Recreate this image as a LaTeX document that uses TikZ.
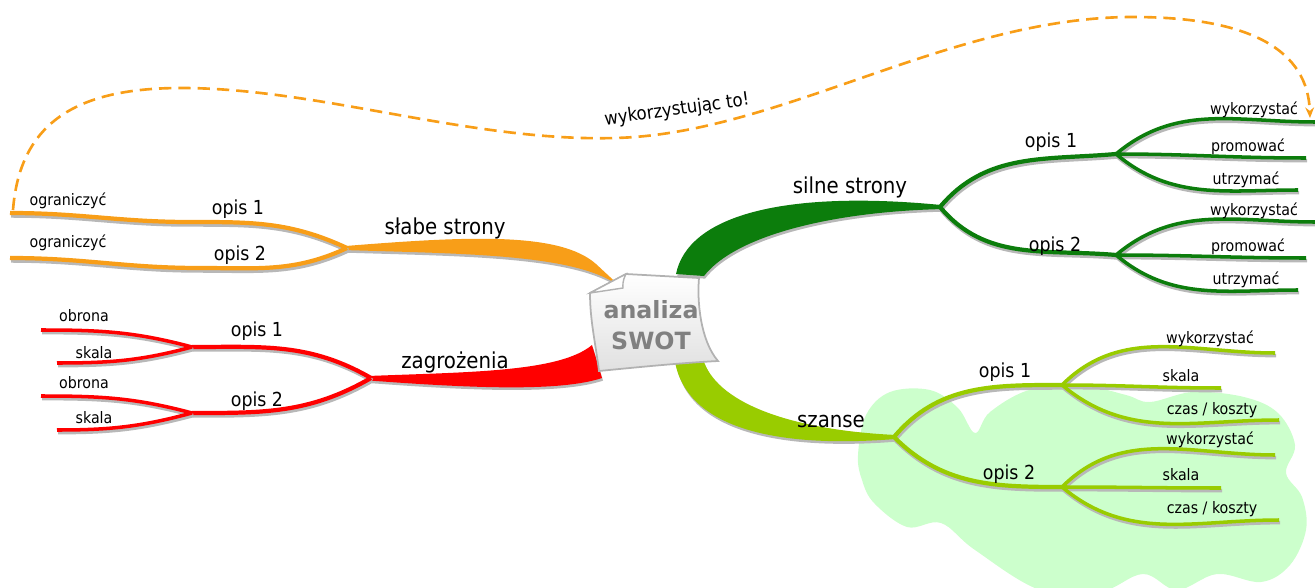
\documentclass[tikz,border=0pt]{standalone}
\usepackage{fontspec}
\setmainfont{DejaVu Sans Condensed}
\newfontfamily\swotfont{DejaVu Sans}
\usetikzlibrary{arrows.meta}

\definecolor{mmorange}{RGB}{248,158,24}
\definecolor{mmred}{RGB}{255,0,0}
\definecolor{mmdark}{RGB}{12,125,12}
\definecolor{mmlight}{RGB}{153,204,0}
\definecolor{mmcloud}{RGB}{204,255,204}

\tikzset{
  twig/.style={line width=#1, preaction={draw=black!28, line width=#1, transform canvas={shift={(0.6pt,-1.5pt)}}}},
  twig/.default=2pt,
  trunk/.style={fill=#1, preaction={fill=black!28, transform canvas={shift={(0.6pt,-1.5pt)}}}},
  leaf/.style={font=\fontsize{9}{10}\selectfont, inner sep=0pt},
  desc/.style={font=\fontsize{11}{12}\selectfont, inner sep=0pt},
  topic/.style={font=\fontsize{12.5}{14}\selectfont, inner sep=0pt},
}

\begin{document}
\begin{tikzpicture}[x=0.02cm, y=-0.02cm]
\useasboundingbox (0,0) rectangle (1315,588);

% cloud behind szanse
\fill[mmcloud] plot[smooth cycle, tension=0.6] coordinates {(858,455) (866,415) (890,392) (930,390) (958,408) (975,433) (990,412) (1029,390) (1080,385) (1126,395) (1150,402) (1193,392) (1244,397) (1278,413) (1295,445) (1286,473) (1302,497) (1306,530) (1290,565) (1261,582) (1217,574) (1177,590) (1143,574) (1100,592) (1040,590) (975,550) (941,523) (907,527) (874,503) (862,480)};

% slabe strony
\coordinate (slabe-j) at (347,248);
\coordinate (slabe-a) at (10,213);
\coordinate (slabe-b) at (10,258);
\fill[trunk=mmorange] ([yshift=1.2pt]slabe-j) .. controls (470,236) and (560,232) .. (596,264) -- (624,290) .. controls (585,254) and (470,254) .. ([yshift=-1.2pt]slabe-j) -- cycle;
\draw[mmorange, twig=2.4pt] (slabe-j) to[out=155,in=0] (190,222) to[out=180,in=0] (slabe-a);
\draw[mmorange, twig=2.4pt] (slabe-j) to[out=205,in=0] (200,268) to[out=180,in=0] (slabe-b);

% zagrozenia
\coordinate (zagr-j) at (371,378);
\coordinate (zagr-1) at (192,347);
\coordinate (zagr-2) at (192,413);
\fill[trunk=mmred] ([yshift=1.2pt]zagr-j) .. controls (470,372) and (560,372) .. (592,345) -- (602,378) .. controls (560,392) and (470,388) .. ([yshift=-1.5pt]zagr-j) -- cycle;
\draw[mmred, twig=2.4pt] (zagr-j) to[out=150,in=0] (zagr-1);
\draw[mmred, twig=2.4pt] (zagr-j) to[out=210,in=0] (zagr-2);
\draw[mmred, twig] (zagr-1) to[out=165,in=0] (41,330);
\draw[mmred, twig] (zagr-1) to[out=195,in=0] (57,363);
\draw[mmred, twig] (zagr-2) to[out=165,in=0] (41,396);
\draw[mmred, twig] (zagr-2) to[out=195,in=0] (57,430);

% silne strony
\coordinate (silne-j) at (940,207);
\coordinate (silne-1) at (1116,154);
\coordinate (silne-2) at (1116,255);
\fill[trunk=mmdark] (676,274) .. controls (688,215) and (785,190) .. ([yshift=1.2pt]silne-j) -- ([yshift=-1.2pt]silne-j) .. controls (830,212) and (735,236) .. (704,276) -- cycle;
\draw[mmdark, twig=2.4pt] (silne-j) to[out=50,in=185] (silne-1);
\draw[mmdark, twig=2.4pt] (silne-j) to[out=-50,in=175] (silne-2);
\draw[mmdark, twig] (silne-1) to[out=40,in=180] (1315,122);
\draw[mmdark, twig] (silne-1) to[out=0,in=180] (1306,158);
\draw[mmdark, twig] (silne-1) to[out=-40,in=180] (1298,190);
\draw[mmdark, twig] (silne-2) to[out=40,in=180] (1315,222);
\draw[mmdark, twig] (silne-2) to[out=0,in=180] (1306,258);
\draw[mmdark, twig] (silne-2) to[out=-40,in=180] (1298,290);

% szanse
\coordinate (szanse-j) at (894,437);
\coordinate (szanse-1) at (1062,385);
\coordinate (szanse-2) at (1062,487);
\fill[trunk=mmlight] (675,362) .. controls (688,430) and (780,448) .. ([yshift=-1.2pt]szanse-j) -- ([yshift=1.2pt]szanse-j) .. controls (795,430) and (720,405) .. (704,362) -- cycle;
\draw[mmlight, twig=2.4pt] (szanse-j) to[out=50,in=180] (szanse-1);
\draw[mmlight, twig=2.4pt] (szanse-j) to[out=-45,in=180] (szanse-2);
\draw[mmlight, twig] (szanse-1) to[out=45,in=180] (1275,353);
\draw[mmlight, twig] (szanse-1) to[out=0,in=180] (1221,388);
\draw[mmlight, twig] (szanse-1) to[out=-40,in=180] (1279,420);
\draw[mmlight, twig] (szanse-2) to[out=45,in=180] (1275,455);
\draw[mmlight, twig] (szanse-2) to[out=0,in=180] (1221,488);
\draw[mmlight, twig] (szanse-2) to[out=-40,in=180] (1279,520);

% paper sheet in the middle
\shade[top color=white, bottom color=black!12, draw=black!30, line width=1pt]
  (590,293) -- (626,274) -- (699,278) .. controls (697,300) and (700,340) .. (718,361)
  .. controls (680,363) and (640,367) .. (599,371) .. controls (595,340) and (590,320) .. cycle;
\filldraw[fill=white, draw=black!30, line width=0.8pt] (590,293) -- (626,274) .. controls (622,282) and (623,285) .. (623,288) -- cycle;
\node[font=\swotfont\bfseries\fontsize{13.5}{18}\selectfont, text=black!50, align=center] (swot) at (651,325) {analiza\\SWOT};

% labels
\node[topic] (slabe) at (445,228) {słabe strony};
\node[desc] (slabe-o1) at (238,209) {opis 1};
\node[desc] (slabe-o2) at (240,255) {opis 2};
\node[leaf] (slabe-l1) at (68,201) {ograniczyć};
\node[leaf] (slabe-l2) at (68,243) {ograniczyć};

\node[topic] (zagr) at (455,362) {zagrożenia};
\node[desc] (zagr-o1) at (257,331) {opis 1};
\node[desc] (zagr-o2) at (257,401) {opis 2};
\node[leaf] (zagr-l1) at (84,316) {obrona};
\node[leaf] (zagr-l2) at (94,353) {skala};
\node[leaf] (zagr-l3) at (84,383) {obrona};
\node[leaf] (zagr-l4) at (94,418) {skala};

\node[topic] (silne) at (850,187) {silne strony};
\node[desc] (silne-o1) at (1051,142) {opis 1};
\node[desc] (silne-o2) at (1055,246) {opis 2};
\node[leaf] (silne-l1) at (1254,110) {wykorzystać};
\node[leaf] (silne-l2) at (1248,147) {promować};
\node[leaf] (silne-l3) at (1246,180) {utrzymać};
\node[leaf] (silne-l4) at (1254,211) {wykorzystać};
\node[leaf] (silne-l5) at (1248,247) {promować};
\node[leaf] (silne-l6) at (1246,280) {utrzymać};

\node[topic] (szanse) at (831,422) {szanse};
\node[desc] (szanse-o1) at (1005,372) {opis 1};
\node[desc] (szanse-o2) at (1009,474) {opis 2};
\node[leaf] (szanse-l1) at (1210,339) {wykorzystać};
\node[leaf] (szanse-l2) at (1181,376) {skala};
\node[leaf] (szanse-l3) at (1212,410) {czas / koszty};
\node[leaf] (szanse-l4) at (1210,440) {wykorzystać};
\node[leaf] (szanse-l5) at (1181,475) {skala};
\node[leaf] (szanse-l6) at (1212,509) {czas / koszty};

% dashed link from the weaknesses to the strengths
\coordinate (link-from) at (13,210);
\coordinate (link-to) at (1310,118);
\draw[mmorange, line width=1.5pt, dash pattern=on 7pt off 4pt, -{Stealth[length=6pt,width=5pt]}]
  (link-from) .. controls (20,120) and (80,88) .. (181,88) .. controls (320,88) and (470,142) .. (615,138)
  .. controls (780,134) and (950,17) .. (1133,17) .. controls (1250,17) and (1308,50) .. (link-to);
\node[font=\fontsize{10.5}{12}\selectfont, inner sep=0pt, rotate=8] (link) at (677,110) {wykorzystując to!};
\end{tikzpicture}
\end{document}
